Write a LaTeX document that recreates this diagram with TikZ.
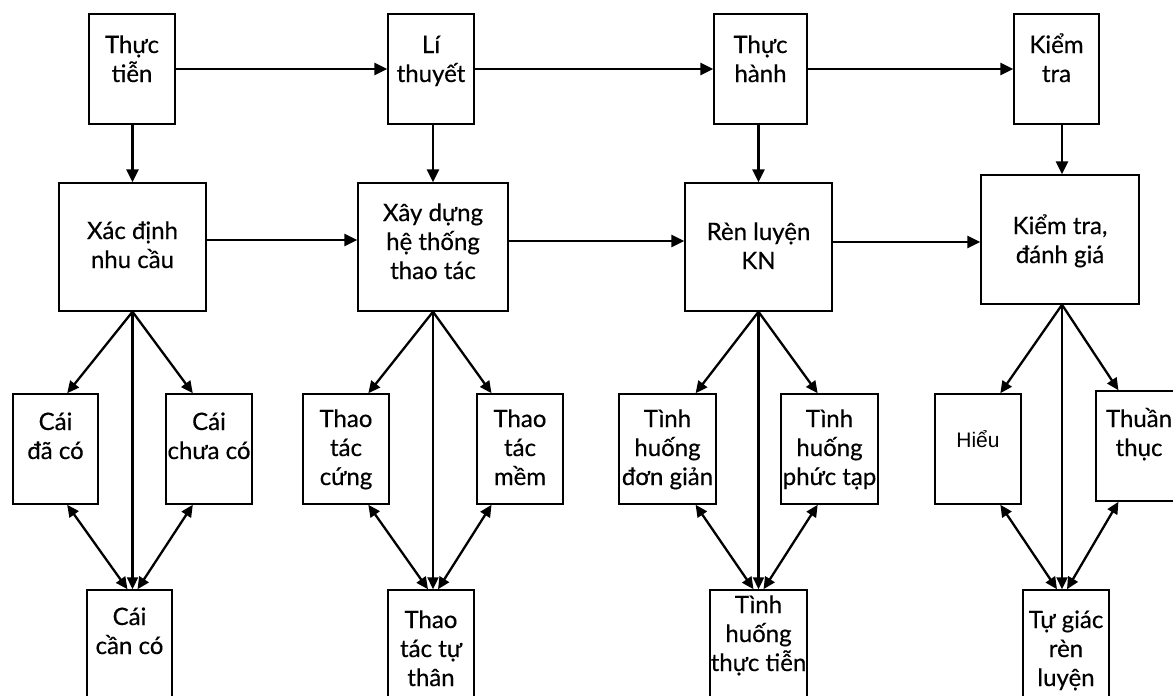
\documentclass[tikz,border=0pt]{standalone}
\usepackage{fontspec}
\setmainfont{Lato}[FakeBold=0.4]
\newfontfamily\hieufont{Liberation Sans}
\usetikzlibrary{arrows.meta,calc}
\begin{document}
\begin{tikzpicture}[x=1pt,y=-1pt,
 box/.style={draw,line width=1.5pt,inner sep=0pt},
 lbl/.style={align=center,font=\fontsize{24}{29}\selectfont,anchor=base,inner sep=0pt},
 arr/.style={line width=2.6pt,-{Triangle[length=13pt,width=12pt]}},
 farr/.style={line width=2.3pt,-{Triangle[length=12pt,width=11pt]}},
 darr/.style={line width=2.3pt,{Triangle[length=12pt,width=11pt]}-{Triangle[length=12pt,width=11pt]}}]
\useasboundingbox (0,0) rectangle (1173,696);
\clip (0,0) rectangle (1173,696);
% top row
\node[box,minimum width=86pt,minimum height=110pt] (T1) at (132,69) {};
\node[box,minimum width=86pt,minimum height=110pt] (T2) at (431,69) {};
\node[box,minimum width=93pt,minimum height=110pt] (T3) at (760.5,69) {};
\node[box,minimum width=85pt,minimum height=110pt] (T4) at (1056.5,69) {};
% middle row
\node[box,minimum width=147pt,minimum height=128pt] (M1) at (132.5,247) {};
\node[box,minimum width=150pt,minimum height=128pt] (M2) at (433,247) {};
\node[box,minimum width=147pt,minimum height=128pt] (M3) at (758.5,247) {};
\node[box,minimum width=158pt,minimum height=129pt] (M4) at (1060,239.5) {};
% children
\node[box,minimum width=85pt,minimum height=110pt] (C1) at (55.5,449) {};
\node[box,minimum width=86pt,minimum height=110pt] (C2) at (209,449) {};
\node[box,minimum width=86pt,minimum height=110pt] (C3) at (346,449) {};
\node[box,minimum width=86pt,minimum height=110pt] (C4) at (520,449) {};
\node[box,minimum width=97pt,minimum height=110pt] (C5) at (667.5,449) {};
\node[box,minimum width=97pt,minimum height=110pt] (C6) at (829.5,449) {};
\node[box,minimum width=86pt,minimum height=110pt] (C7) at (978,449) {};
\node[box,minimum width=86pt,minimum height=110pt] (C8) at (1139,446) {};
% bottom row
\node[box,minimum width=85pt,minimum height=130pt] (B1) at (129.5,655) {};
\node[box,minimum width=86pt,minimum height=130pt] (B2) at (431,655) {};
\node[box,minimum width=97pt,minimum height=130pt] (B3) at (758.5,655) {};
\node[box,minimum width=86pt,minimum height=130pt] (B4) at (1066,655) {};
% labels (anchor=base is the last line's baseline)
\node[lbl] (lT1) at (132,82) {Thực\\tiễn};
\node[lbl] (lT2) at (431,82) {Lí\\thuyết};
\node[lbl] (lT3) at (760.5,82) {Thực\\hành};
\node[lbl] (lT4) at (1056.5,82) {Kiểm\\tra};
\node[lbl] (lM1) at (132.5,268) {Xác định\\nhu cầu};
\node[lbl] (lM2) at (433,279) {Xây dựng\\hệ thống\\thao tác};
\node[lbl] (lM3) at (758.5,269) {Rèn luyện\\KN};
\node[lbl] (lM4) at (1060,263) {Kiểm tra,\\đánh giá};
\node[lbl] (lC1) at (55.5,459) {Cái\\đã có};
\node[lbl] (lC2) at (209,459) {Cái\\chưa có};
\node[lbl] (lC3) at (346,485) {Thao\\tác\\cứng};
\node[lbl] (lC4) at (520,485) {Thao\\tác\\mềm};
\node[lbl] (lC5) at (667.5,485) {Tình\\huống\\đơn giản};
\node[lbl] (lC6) at (829.5,485) {Tình\\huống\\phức tạp};
\node[anchor=base,inner sep=0pt,font=\hieufont\fontsize{21}{24}\selectfont] (lC7) at (978,447) {Hiểu};
\node[lbl] (lC8) at (1139,456) {Thuần\\thục};
\node[lbl] (lB1) at (129.5,654) {Cái\\cần có};
\node[lbl] (lB2) at (431,686) {Thao\\tác tự\\thân};
\node[lbl] (lB3) at (758.5,671) {Tình\\huống\\thực tiễn};
\node[lbl] (lB4) at (1066,686) {Tự giác\\rèn\\luyện};
% top connectors
\draw[arr] (T1) -- (T2);
\draw[arr] (T2) -- (T3);
\draw[arr] (T3) -- (T4);
\draw[arr] (M1.north |- T1.south) -- (M1.north);
\draw[arr] (M2.north |- T2.south) -- (M2.north);
\draw[arr] (M3.north |- T3.south) -- (M3.north);
\draw[arr] ([xshift=2pt]M4.north |- T4.south) -- ([xshift=2pt]M4.north);
\coordinate (h1) at (0,240);
\coordinate (h2) at (0,241);
\coordinate (h3) at (0,242);
\draw[arr] (M1.east |- h1) -- (M2.west |- h1);
\draw[arr] (M2.east |- h2) -- (M3.west |- h2);
\draw[arr] (M3.east |- h3) -- (M4.west |- h3);
% fan 1
\draw[farr] (M1.south) -- ($(C1.north)!0.27!(C1.north east)$);
\draw[farr] (M1.south) -- ($(C2.north)!0.37!(C2.north west)$);
\draw[farr] (M1.south) -- (M1.south |- B1.north);
\draw[darr] ($(C1.south)!0.27!(C1.south east)$) -- ($(M1.south |- B1.north)+(-5,0)$);
\draw[darr] ($(C2.south)!0.37!(C2.south west)$) -- ($(M1.south |- B1.north)+(5,0)$);
% fan 2
\draw[farr] (M2.south) -- ($(C3.north)!0.51!(C3.north east)$);
\draw[farr] (M2.south) -- ($(C4.north)!0.65!(C4.north west)$);
\draw[farr] (M2.south) -- (M2.south |- B2.north);
\draw[darr] ($(C3.south)!0.51!(C3.south east)$) -- ($(M2.south |- B2.north)+(-5,0)$);
\draw[darr] ($(C4.south)!0.65!(C4.south west)$) -- ($(M2.south |- B2.north)+(5,0)$);
% fan 3
\draw[farr] (M3.south) -- ($(C5.north)!0.57!(C5.north east)$);
\draw[farr] (M3.south) -- ($(C6.north)!0.24!(C6.north west)$);
\draw[farr] (M3.south) -- (M3.south |- B3.north);
\draw[darr] ($(C5.south)!0.57!(C5.south east)$) -- ($(M3.south |- B3.north)+(-5,0)$);
\draw[darr] ($(C6.south)!0.24!(C6.south west)$) -- ($(M3.south |- B3.north)+(5,0)$);
% fan 4
\draw[farr] ([xshift=2pt]M4.south) -- ($(C7.north)!0.51!(C7.north east)$);
\draw[farr] ([xshift=2pt]M4.south) -- ($(C8.north)!0.47!(C8.north west)$);
\draw[farr] ([xshift=2pt]M4.south) -- ([xshift=2pt]M4.south |- B4.north);
\draw[darr] ($(C7.south)!0.51!(C7.south east)$) -- ($([xshift=2pt]M4.south |- B4.north)+(-5,0)$);
\draw[darr] ($(C8.south)!0.47!(C8.south west)$) -- ($([xshift=2pt]M4.south |- B4.north)+(5,0)$);
\end{tikzpicture}
\end{document}
